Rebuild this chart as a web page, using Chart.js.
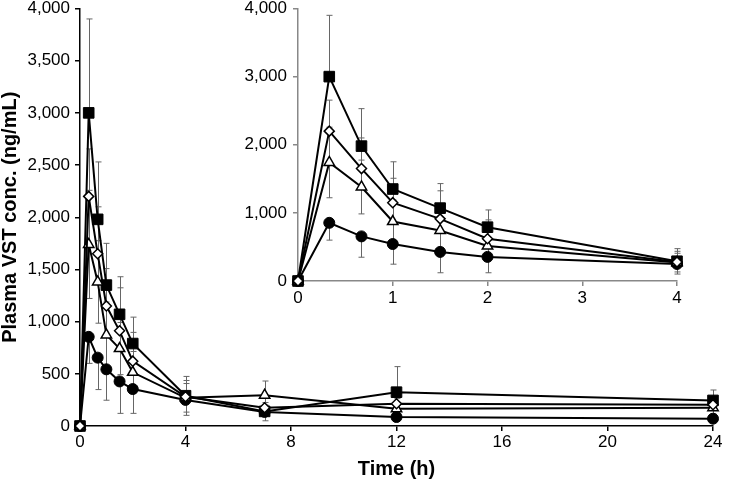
<!DOCTYPE html>
<html>
<head>
<meta charset="utf-8">
<script src="https://cdn.jsdelivr.net/npm/chart.js@4.4.1/dist/chart.umd.min.js"></script>
<style>
  body { margin: 0; background: #fff; }
  #wrap { position: relative; width: 749px; height: 482px; }
  #main { position: absolute; left: 0; top: 0; }
  #inset { position: absolute; left: 230px; top: 0; }
</style>
</head>
<body>
<div id="wrap">
  <canvas id="main" width="749" height="482"></canvas>
  <canvas id="inset" width="470" height="310"></canvas>
</div>
<script>
// sampling times (h)
const times = [0, 0.33, 0.67, 1, 1.5, 2, 4, 7, 12, 24];

// mean plasma conc. (ng/mL)
const squareVals   = [0, 3000, 1980, 1350, 1070, 790, 290, 140, 324, 245];
const diamondVals  = [0, 2200, 1650, 1150, 912, 621, 280, 175, 213, 204];
const triangleVals = [0, 1740, 1380, 873, 742, 514, 270, 295, 166, 175];
const circleVals   = [0, 854, 655, 543, 427, 354, 250, 135, 86, 70];

// SD
const squareErr   = [0, 900, 550, 400, 360, 253, 185, 60, 245, 100];
const diamondErr  = [0, 455, 450, 358, 412, 276, 156, 50, 50, 50];
const triangleErr = [0, 518, 395, 315, 250, 200, 137, 136, 60, 60];
const circleErr   = [0, 254, 306, 296, 306, 233, 148, 85, 30, 30];

const mainXTicks = [0, 4, 8, 12, 16, 20, 24];
const insetXTicks = [0, 1, 2, 3, 4];

const FONT = 'Liberation Sans, Arial, sans-serif';

function pts(vals, n) {
    return vals.slice(0, n).map((v, i) => ({x: times[i], y: v}));
}

function makeDatasets(n) {
    return [
        {data: pts(diamondVals, n), err: diamondErr, dir: 'up', pointStyle: 'rectRot', pointRadius: 5,
         pointBackgroundColor: '#fff', pointBorderWidth: 1.5},
        {data: pts(triangleVals, n), err: triangleErr, dir: 'both', pointStyle: 'triangle', pointRadius: 6,
         pointBackgroundColor: '#fff', pointBorderWidth: 1.5},
        {data: pts(circleVals, n), err: circleErr, dir: 'down', pointStyle: 'circle', pointRadius: 5.5,
         pointBackgroundColor: '#000', pointBorderWidth: 1},
        {data: pts(squareVals, n), err: squareErr, dir: 'up', pointStyle: 'rect', pointRadius: 7.5,
         pointBackgroundColor: '#000', pointBorderWidth: 1}
    ].map(d => Object.assign(d, {
        borderColor: '#000', borderWidth: 2, pointBorderColor: '#000',
        tension: 0, clip: false, fill: false
    }));
}

const errorBars = {
    id: 'errorBars',
    beforeDatasetsDraw(chart) {
        const ctx = chart.ctx;
        const x = chart.scales.x, y = chart.scales.y;
        ctx.save();
        ctx.strokeStyle = '#666';
        ctx.lineWidth = 1;
        chart.data.datasets.forEach(ds => {
            ds.data.forEach((p, i) => {
                const e = ds.err[i];
                if (!e) return;
                const px = Math.round(x.getPixelForValue(p.x)) + 0.5;
                const hi = y.getPixelForValue(ds.dir === 'down' ? p.y : p.y + e);
                const lo = y.getPixelForValue(ds.dir === 'up' ? p.y : p.y - e);
                ctx.beginPath();
                ctx.moveTo(px, hi); ctx.lineTo(px, lo);
                if (ds.dir !== 'down') { ctx.moveTo(px - 3, hi); ctx.lineTo(px + 3, hi); }
                if (ds.dir !== 'up') { ctx.moveTo(px - 3, lo); ctx.lineTo(px + 3, lo); }
                ctx.stroke();
            });
        });
        ctx.restore();
    }
};

const fmt = v => v.toLocaleString('en-US');

// main chart
new Chart(document.getElementById('main'), {
    type: 'line',
    data: {datasets: makeDatasets(times.length)},
    options: {
        responsive: false,
        animation: false,
        layout: {padding: {left: 0, top: 6, right: 36, bottom: 0}},
        plugins: {legend: {display: false}, tooltip: {enabled: false}},
        scales: {
            x: {
                type: 'linear', min: 0, max: 24,
                afterBuildTicks: s => { s.ticks = mainXTicks.map(v => ({value: v})); },
                border: {color: '#000', width: 1.5},
                grid: {drawOnChartArea: false, tickLength: 5, color: '#000', lineWidth: 1.5},
                ticks: {color: '#000', padding: 1, maxRotation: 0, font: {size: 17, family: FONT}},
                title: {display: true, text: 'Time (h)', color: '#000', padding: {top: 4, bottom: 1},
                        font: {size: 20, weight: 'bold', family: FONT}},
                afterFit(s) { s.height = 56; s.paddingLeft = 0; s.paddingRight = 0; }
            },
            y: {
                min: 0, max: 4000,
                border: {color: '#000', width: 1.5},
                grid: {drawOnChartArea: false, tickLength: 5, color: '#000', lineWidth: 1.5},
                ticks: {stepSize: 500, color: '#000', padding: 5, callback: fmt, font: {size: 17, family: FONT}},
                title: {display: true, text: 'Plasma VST conc. (ng/mL)', color: '#000', padding: {top: 0, bottom: 0},
                        font: {size: 20, weight: 'bold', family: FONT, lineHeight: 1}},
                afterFit(s) { s.width = 80; s.paddingTop = 0; s.paddingBottom = 0; }
            }
        }
    },
    plugins: [errorBars]
});

// inset, first 4 h
new Chart(document.getElementById('inset'), {
    type: 'line',
    data: {datasets: makeDatasets(7)},
    options: {
        responsive: false,
        animation: false,
        layout: {padding: {left: 0, top: 6, right: 23, bottom: 0}},
        plugins: {legend: {display: false}, tooltip: {enabled: false}},
        scales: {
            x: {
                type: 'linear', min: 0, max: 4,
                afterBuildTicks: s => { s.ticks = insetXTicks.map(v => ({value: v})); },
                border: {color: '#888', width: 1.5},
                grid: {drawOnChartArea: false, tickLength: 5, color: '#888', lineWidth: 1.5},
                ticks: {color: '#000', padding: 2, maxRotation: 0, font: {size: 17, family: FONT}},
                afterFit(s) { s.height = 29; s.paddingLeft = 0; s.paddingRight = 0; }
            },
            y: {
                min: 0, max: 4000,
                border: {color: '#888', width: 1.5},
                grid: {drawOnChartArea: false, tickLength: 5, color: '#888', lineWidth: 1.5},
                ticks: {stepSize: 1000, color: '#000', padding: 6, callback: fmt, font: {size: 17, family: FONT}},
                afterFit(s) { s.width = 68; s.paddingTop = 0; s.paddingBottom = 0; }
            }
        }
    },
    plugins: [errorBars]
});
</script>
</body>
</html>
